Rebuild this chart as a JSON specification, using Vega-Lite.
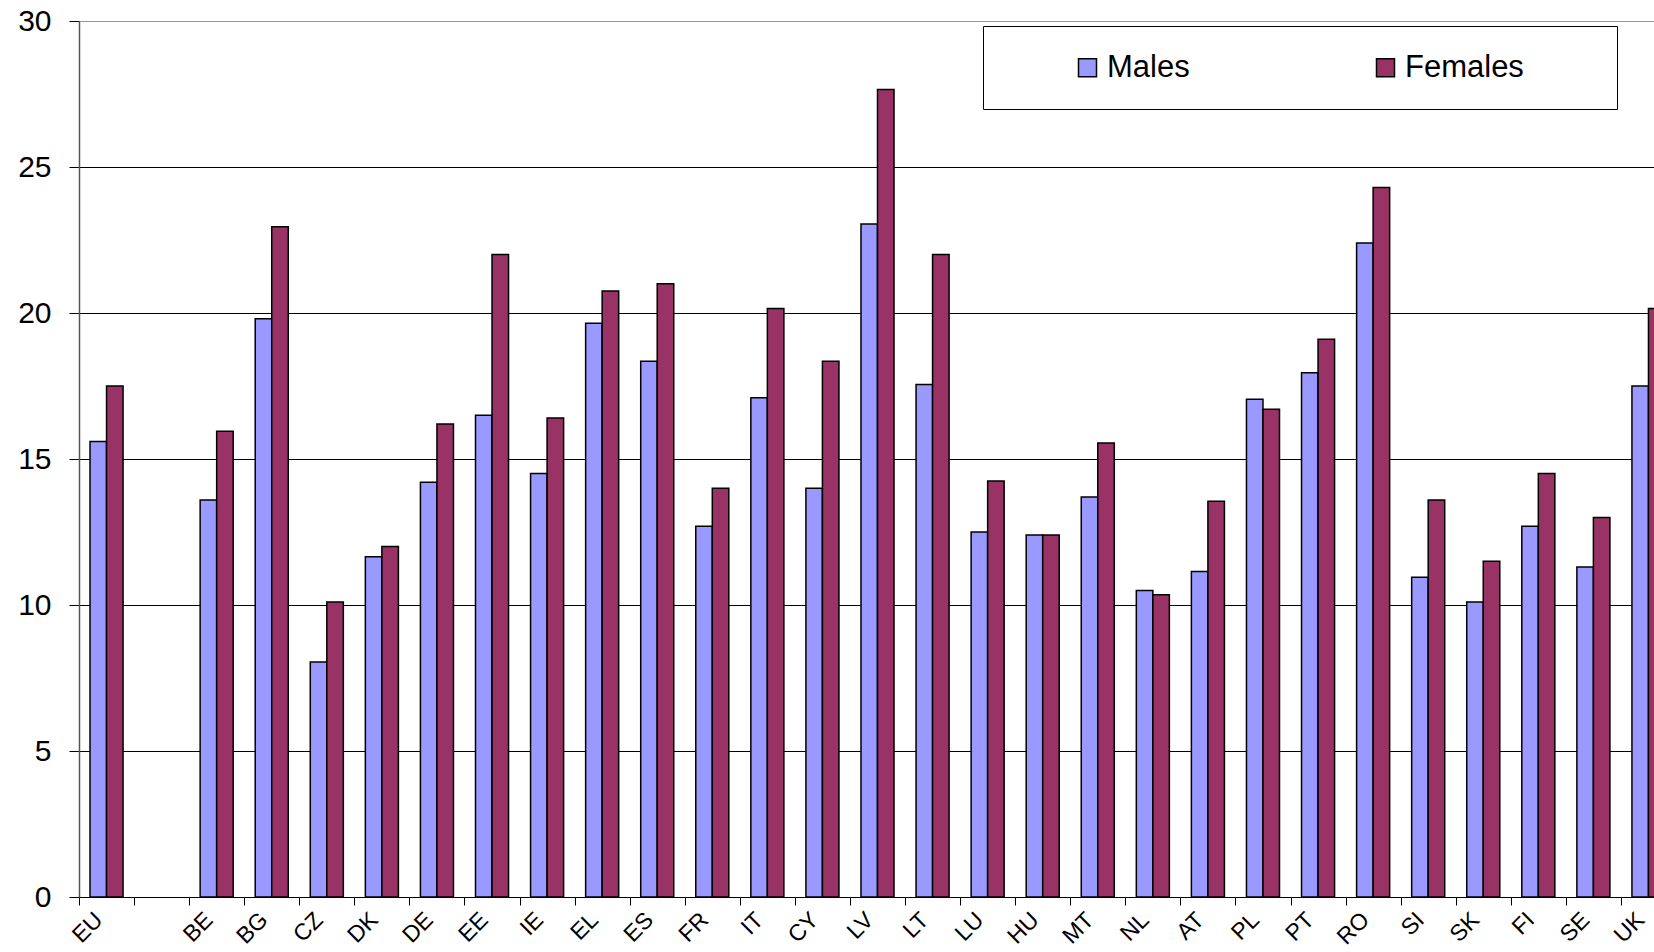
{
  "$schema": "https://vega.github.io/schema/vega-lite/v6.json",
  "width": 1575,
  "height": 876,
  "autosize": {"type": "none"},
  "padding": {"left": 79, "top": 21, "right": 0, "bottom": 55},
  "background": "white",
  "config": {"view": {"stroke": null}, "font": "Liberation Sans"},
  "data": {"values": [
    {"country": "EU", "sex": "Males", "value": 15.6}, {"country": "EU", "sex": "Females", "value": 17.5},
    {"country": "BE", "sex": "Males", "value": 13.6}, {"country": "BE", "sex": "Females", "value": 15.95},
    {"country": "BG", "sex": "Males", "value": 19.8}, {"country": "BG", "sex": "Females", "value": 22.95},
    {"country": "CZ", "sex": "Males", "value": 8.05}, {"country": "CZ", "sex": "Females", "value": 10.1},
    {"country": "DK", "sex": "Males", "value": 11.65}, {"country": "DK", "sex": "Females", "value": 12.0},
    {"country": "DE", "sex": "Males", "value": 14.2}, {"country": "DE", "sex": "Females", "value": 16.2},
    {"country": "EE", "sex": "Males", "value": 16.5}, {"country": "EE", "sex": "Females", "value": 22.0},
    {"country": "IE", "sex": "Males", "value": 14.5}, {"country": "IE", "sex": "Females", "value": 16.4},
    {"country": "EL", "sex": "Males", "value": 19.65}, {"country": "EL", "sex": "Females", "value": 20.75},
    {"country": "ES", "sex": "Males", "value": 18.35}, {"country": "ES", "sex": "Females", "value": 21.0},
    {"country": "FR", "sex": "Males", "value": 12.7}, {"country": "FR", "sex": "Females", "value": 14.0},
    {"country": "IT", "sex": "Males", "value": 17.1}, {"country": "IT", "sex": "Females", "value": 20.15},
    {"country": "CY", "sex": "Males", "value": 14.0}, {"country": "CY", "sex": "Females", "value": 18.35},
    {"country": "LV", "sex": "Males", "value": 23.05}, {"country": "LV", "sex": "Females", "value": 27.65},
    {"country": "LT", "sex": "Males", "value": 17.55}, {"country": "LT", "sex": "Females", "value": 22.0},
    {"country": "LU", "sex": "Males", "value": 12.5}, {"country": "LU", "sex": "Females", "value": 14.25},
    {"country": "HU", "sex": "Males", "value": 12.4}, {"country": "HU", "sex": "Females", "value": 12.4},
    {"country": "MT", "sex": "Males", "value": 13.7}, {"country": "MT", "sex": "Females", "value": 15.55},
    {"country": "NL", "sex": "Males", "value": 10.5}, {"country": "NL", "sex": "Females", "value": 10.35},
    {"country": "AT", "sex": "Males", "value": 11.15}, {"country": "AT", "sex": "Females", "value": 13.55},
    {"country": "PL", "sex": "Males", "value": 17.05}, {"country": "PL", "sex": "Females", "value": 16.7},
    {"country": "PT", "sex": "Males", "value": 17.95}, {"country": "PT", "sex": "Females", "value": 19.1},
    {"country": "RO", "sex": "Males", "value": 22.4}, {"country": "RO", "sex": "Females", "value": 24.3},
    {"country": "SI", "sex": "Males", "value": 10.95}, {"country": "SI", "sex": "Females", "value": 13.6},
    {"country": "SK", "sex": "Males", "value": 10.1}, {"country": "SK", "sex": "Females", "value": 11.5},
    {"country": "FI", "sex": "Males", "value": 12.7}, {"country": "FI", "sex": "Females", "value": 14.5},
    {"country": "SE", "sex": "Males", "value": 11.3}, {"country": "SE", "sex": "Females", "value": 13.0},
    {"country": "UK", "sex": "Males", "value": 17.5}, {"country": "UK", "sex": "Females", "value": 20.15}
  ]},
  "mark": {"type": "bar", "stroke": "black", "strokeWidth": 1.5},
  "encoding": {
    "x": {
      "field": "country",
      "type": "nominal",
      "scale": {
        "domain": ["EU", " ", "BE", "BG", "CZ", "DK", "DE", "EE", "IE", "EL", "ES", "FR", "IT", "CY", "LV", "LT", "LU", "HU", "MT", "NL", "AT", "PL", "PT", "RO", "SI", "SK", "FI", "SE", "UK"],
        "range": [0, 1597],
        "paddingInner": 0.4,
        "paddingOuter": 0.2
      },
      "axis": {
        "title": null,
        "bandPosition": 0,
        "tickOffset": -11,
        "labelOffset": 3,
        "labelAngle": -45,
        "labelAlign": "right",
        "labelBaseline": "middle",
        "labelFontSize": 23,
        "labelFont": "Liberation Sans",
        "labelColor": "black",
        "labelPadding": 11,
        "tickSize": 8,
        "tickColor": "black",
        "tickWidth": 1,
        "domainColor": "black",
        "domainWidth": 1,
        "grid": false
      }
    },
    "xOffset": {"field": "sex", "type": "nominal", "scale": {"domain": ["Males", "Females"], "paddingInner": 0, "paddingOuter": 0}},
    "y": {
      "field": "value",
      "type": "quantitative",
      "scale": {"domain": [0, 30], "nice": false},
      "axis": {
        "title": null,
        "values": [0, 5, 10, 15, 20, 25, 30],
        "labelFontSize": 30,
        "labelFont": "Liberation Sans",
        "labelColor": "black",
        "labelPadding": 18,
        "tickSize": 10,
        "tickColor": "black",
        "domainColor": "#555555",
        "domainWidth": 1.5,
        "grid": true,
        "gridColor": {"condition": {"test": "datum.value === 30", "value": "#999999"}, "value": "black"},
        "gridWidth": 1,
        "gridOpacity": 1
      }
    },
    "color": {
      "field": "sex",
      "type": "nominal",
      "scale": {"domain": ["Males", "Females"], "range": ["#9999FF", "#993366"]},
      "legend": {
        "orient": "none",
        "legendX": 904,
        "legendY": 5,
        "direction": "horizontal",
        "columns": 2,
        "title": "\u00a0",
        "titleOrient": "right",
        "titleFontSize": 1,
        "titlePadding": 67,
        "symbolType": "square",
        "symbolSize": 324,
        "symbolStrokeColor": "black",
        "symbolStrokeWidth": 1.5,
        "symbolOffset": 63,
        "labelFontSize": 31,
        "labelFont": "Liberation Sans",
        "labelColor": "black",
        "labelOffset": 4,
        "labelLimit": 0,
        "columnPadding": 117,
        "padding": 26,
        "strokeColor": "black",
        "fillColor": "white",
        "cornerRadius": 0
      }
    }
  }
}
